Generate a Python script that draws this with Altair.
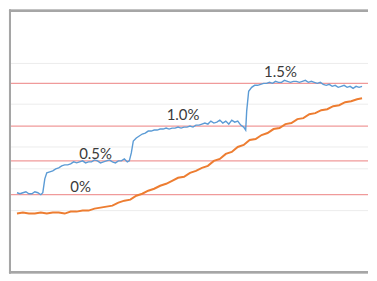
import altair as alt
import pandas as pd

# Blue signal: (time, level) pairs (level axis runs downward)
blue_points = [
    (16,192),(19,193),(22,192),(25,191),(28,193),(31,193),(34,191),(37,192),(40,194),(42,192),
    (44,178),(46,172),(49,171),(52,170),(55,168),(58,167),(61,165),(64,164),(67,164),(70,163),
    (73,161),(76,162),(79,161),(82,160),(85,162),(88,161),(91,161),(94,159),(97,160),(100,162),
    (103,161),(106,160),(109,159),(112,161),(115,162),(118,160),(121,160),(124,158),(127,161),(129,160),
    (131,152),(133,140),(136,137),(139,135),(142,133),(145,132),(148,130),(151,130),(154,129),(157,129),
    (160,128),(163,128),(166,127),(169,128),(172,127),(175,127),(178,126),(181,127),(184,126),(187,126),
    (190,125),(193,126),(196,124),(199,124),(202,123),(205,122),(208,123),(211,120),(214,122),(217,121),
    (220,119),(223,122),(226,120),(229,123),(232,119),(235,121),(238,120),(241,124),(244,126),(246,129),
    (247,110),(249,90),(252,86),(255,84),(258,84),(261,83),(264,82),(267,82),(270,81),(273,82),
    (276,80),(279,81),(282,81),(285,79),(288,80),(291,81),(294,80),(297,80),(300,81),(303,80),
    (306,79),(309,81),(312,80),(315,81),(318,82),(321,81),(324,83),(327,84),(330,83),(333,85),
    (336,84),(339,86),(342,85),(345,84),(348,86),(351,85),(354,87),(357,85),(360,86),(363,85),
]

# Orange signal: (time, level) pairs
orange_points = [
    (16,213),(22,212),(28,213),(34,213),(40,212),(46,213),(52,212),(58,212),(64,213),(70,211),
    (76,211),(82,210),(88,210),(94,208),(100,207),(106,206),(112,205),(118,202),(124,200),(130,199),
    (136,195),(142,193),(148,190),(154,188),(160,185),(166,183),(172,180),(178,177),(184,176),(190,172),
    (196,170),(202,167),(208,165),(214,160),(220,158),(226,153),(232,151),(238,146),(244,144),(250,139),
    (256,138),(262,134),(268,132),(274,128),(280,127),(286,123),(292,122),(298,118),(304,117),(310,113),
    (316,112),(322,109),(328,108),(334,105),(340,104),(346,101),(352,100),(358,98),(363,97),
]

red_levels = [82, 125, 160, 194]
faint_levels = [62, 103, 146, 168, 210]

label_text = ["0%", "0.5%", "1.0%", "1.5%"]
label_t = [80, 95, 183, 281]
label_v = [186, 153, 114, 71]

xs = alt.Scale(domain=[8, 369], nice=False, zero=False)
ys = alt.Scale(domain=[8, 273], nice=False, zero=False, reverse=True)

blue_df = pd.DataFrame(blue_points, columns=["t", "v"])
orange_df = pd.DataFrame(orange_points, columns=["t", "v"])
red_df = pd.DataFrame({"v": red_levels})
faint_df = pd.DataFrame({"v": faint_levels})
lab_df = pd.DataFrame({"t": label_t, "v": label_v, "s": label_text})

faint = alt.Chart(faint_df).mark_rule(color="#ececec", strokeWidth=1).encode(
    y=alt.Y("v:Q", scale=ys, axis=None))
red = alt.Chart(red_df).mark_rule(color="#f09a9a", strokeWidth=1.3).encode(
    y=alt.Y("v:Q", scale=ys, axis=None))
orange = alt.Chart(orange_df).mark_line(color="#ed7d31", strokeWidth=2).encode(
    x=alt.X("t:Q", scale=xs, axis=None), y=alt.Y("v:Q", scale=ys, axis=None))
blue = alt.Chart(blue_df).mark_line(color="#5b9bd5", strokeWidth=1.4).encode(
    x=alt.X("t:Q", scale=xs, axis=None), y=alt.Y("v:Q", scale=ys, axis=None))
labels = alt.Chart(lab_df).mark_text(font="Lato", fontSize=15, color="#3a3a3a",
                                      baseline="middle", align="center").encode(
    x=alt.X("t:Q", scale=xs, axis=None), y=alt.Y("v:Q", scale=ys, axis=None), text="s:N")

frame_top = alt.Chart(red_df).mark_rule(color="#a6a6a6", strokeWidth=2).encode(y=alt.value(1))
frame_bottom = alt.Chart(red_df).mark_rule(color="#a6a6a6", strokeWidth=2).encode(y=alt.value(264))
frame_left = alt.Chart(red_df).mark_rule(color="#a6a6a6", strokeWidth=2).encode(
    x=alt.value(1), y=alt.value(0), y2=alt.value(265))

chart = alt.layer(faint, red, orange, blue, labels, frame_top, frame_bottom, frame_left).properties(
    width=361, height=265, padding=0, background="white"
).configure_view(stroke=None)

chart.save("out.html", embed_options={"renderer": "svg", "actions": False})
